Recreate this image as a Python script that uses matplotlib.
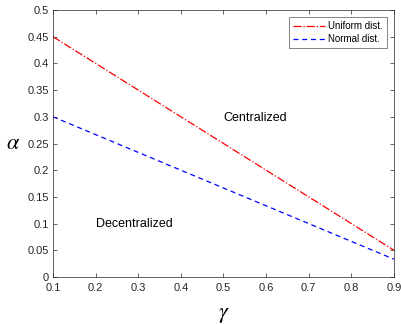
import matplotlib
matplotlib.use("Agg")
import matplotlib.pyplot as plt

plt.rcParams["font.family"] = ["Liberation Sans", "DejaVu Sans"]
plt.rcParams["mathtext.fontset"] = "stix"

gamma = [0.1, 0.9]
uniform = [0.45, 0.05]
normal = [0.30, 0.0333]
xticks = [0.1, 0.2, 0.3, 0.4, 0.5, 0.6, 0.7, 0.8, 0.9]
yticks = [0, 0.05, 0.1, 0.15, 0.2, 0.25, 0.3, 0.35, 0.4, 0.45, 0.5]

fig = plt.figure(figsize=(4.02, 3.24), dpi=100)
ax = fig.add_axes([53 / 402, 1 - 277 / 324, 341 / 402, 267 / 324])

ax.plot(gamma, uniform, color="red", ls="-.", lw=0.9, label="Uniform dist.")
ax.plot(gamma, normal, color="blue", ls=(0, (4, 3)), lw=0.9, label="Normal dist.")

ax.text(0.574, 0.298, "Centralized", ha="center", va="center", fontsize=9)
ax.text(0.292, 0.099, "Decentralized", ha="center", va="center", fontsize=9)

ax.set_xlim(0.1, 0.9)
ax.set_ylim(0, 0.5)
ax.set_xticks(xticks)
ax.set_yticks(yticks)
ax.set_xticklabels([f"{v:g}" for v in xticks])
ax.set_yticklabels([f"{v:g}" for v in yticks])
ax.tick_params(direction="in", top=True, right=True, labelsize=8,
               colors="#262626", length=3, width=0.5, pad=3)
ax.tick_params(axis="x", pad=4)
for s in ax.spines.values():
    s.set_color("#262626")
    s.set_linewidth(0.5)

ax.set_xlabel(r"$\gamma$", fontsize=16, labelpad=8)
ax.set_ylabel(r"$\alpha$", fontsize=16, rotation=0, labelpad=10, va="center")

leg = ax.legend(loc="upper right", fontsize=7, frameon=True, fancybox=False,
                handlelength=3.3, borderaxespad=0.7, handletextpad=0.3,
                labelspacing=0.3, borderpad=0.45)
leg.get_frame().set_edgecolor("#262626")
leg.get_frame().set_linewidth(0.5)

fig.savefig("out.png", dpi=100)
